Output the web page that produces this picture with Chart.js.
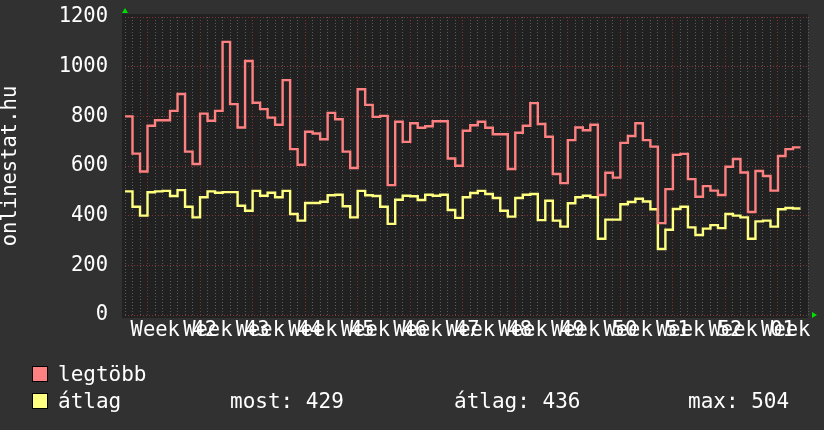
<!DOCTYPE html>
<html>
<head>
<meta charset="utf-8">
<script src="https://cdn.jsdelivr.net/npm/chart.js@4"></script>
<style>
  html, body { margin: 0; padding: 0; background: #313131; }
  #wrap { position: relative; width: 824px; height: 430px; overflow: hidden; }
  #wrap canvas { position: absolute; left: 0; top: 0; }
  .lg { position: absolute; font: 21px/21px 'DejaVu Sans Mono', monospace; color: #fff; white-space: pre; }
  .sw { position: absolute; width: 16px; height: 16px; box-sizing: border-box; border: 1px solid #000; }
</style>
</head>
<body>
<div id="wrap">
  <canvas id="myChart1" width="824" height="430"></canvas>
</div>
<script>
// week numbers shown under the x axis (one label per week)
var weekLabels = ['42', '43', '44', '45', '46', '47', '48', '49', '50', '51', '52', '01', '02'];

// daily values, 90 days
var legtobb = [
  800, 650, 578, 762, 784, 784, 822, 890, 658, 608,
  811, 782, 822, 1100, 849, 755, 1023, 855, 829, 795,
  766, 946, 668, 605, 738, 731, 708, 814, 788, 658,
  592, 909, 846, 798, 802, 523, 778, 697, 772, 754,
  760, 780, 780, 630, 601, 742, 764, 778, 754, 728,
  728, 588, 734, 762, 853, 769, 718, 568, 531, 704,
  755, 744, 766, 483, 573, 553, 693, 721, 772, 704,
  678, 370, 507, 645, 649, 547, 476, 519, 501, 483,
  597, 628, 574, 415, 580, 560, 501, 640, 668, 675
];
var atlag = [
  498, 436, 400, 494, 498, 500, 479, 503, 436, 393,
  474, 498, 492, 495, 495, 440, 420, 500, 480, 492,
  474, 500, 407, 380, 451, 451, 456, 482, 484, 438,
  393, 500, 482, 479, 436, 367, 464, 480, 478, 463,
  484, 480, 484, 423, 391, 474, 491, 500, 487, 471,
  420, 396, 471, 484, 487, 382, 460, 380, 356, 450,
  474, 480, 474, 307, 384, 384, 446, 455, 468, 457,
  426, 266, 343, 427, 436, 353, 322, 348, 362, 350,
  407, 400, 393, 307, 377, 380, 356, 426, 431, 429
];

var statMost = 429;
var statAtlag = 436;
var statMax = 504;

var FONT = "'DejaVu Sans Mono', monospace";
var RED = 'rgb(255, 128, 128)';
var YELLOW = 'rgb(255, 255, 128)';
var GRID_MINOR = 'rgb(92, 92, 92)';
var GRID_MAJOR = 'rgb(128, 52, 52)';

// each value holds for one day, so add a closing point at the end
function steps(arr) {
  var pts = arr.map(function (v, i) { return { x: i, y: v }; });
  pts.push({ x: arr.length, y: arr[arr.length - 1] });
  return pts;
}

var bgPlugin = {
  id: 'bg',
  beforeDraw: function (chart) {
    var ctx = chart.ctx, a = chart.chartArea;
    ctx.save();
    ctx.fillStyle = '#313131';
    ctx.fillRect(0, 0, chart.width, chart.height);
    ctx.fillStyle = '#212121';
    ctx.fillRect(a.left - 3, a.top - 3, a.right - a.left + 3, a.bottom - a.top + 6);
    ctx.restore();
  },
  afterDraw: function (chart) {
    var ctx = chart.ctx, a = chart.chartArea;
    ctx.save();
    ctx.fillStyle = '#00e000';
    ctx.beginPath();
    ctx.moveTo(a.left - 3, a.top - 4);
    ctx.lineTo(a.left + 3, a.top - 4);
    ctx.lineTo(a.left, a.top - 9);
    ctx.closePath();
    ctx.fill();
    ctx.beginPath();
    ctx.moveTo(a.right + 4, a.bottom - 3);
    ctx.lineTo(a.right + 4, a.bottom + 3);
    ctx.lineTo(a.right + 9, a.bottom);
    ctx.closePath();
    ctx.fill();
    ctx.restore();
  }
};

var ctx = document.getElementById('myChart1').getContext('2d');

var myChart = new Chart(ctx, {
  type: 'line',
  data: {
    datasets: [{
      label: 'legtöbb',
      data: steps(legtobb),
      borderColor: RED,
      borderWidth: 2.4,
      pointRadius: 0,
      stepped: true,
      fill: false
    }, {
      label: 'átlag',
      data: steps(atlag),
      borderColor: YELLOW,
      borderWidth: 2.4,
      pointRadius: 0,
      stepped: true,
      fill: false
    }]
  },
  options: {
    responsive: false,
    animation: false,
    layout: { padding: { left: 0, top: 17, right: 16, bottom: 80 } },
    plugins: {
      legend: { display: false },
      tooltip: { enabled: false }
    },
    scales: {
      x: {
        type: 'linear',
        min: 0,
        max: 91,
        afterBuildTicks: function (scale) {
          var t = [];
          for (var i = 0; i <= 91; i++) t.push({ value: i });
          weekLabels.forEach(function (w, k) { t.push({ value: 6.5 + 7 * k }); });
          t.sort(function (p, q) { return p.value - q.value; });
          scale.ticks = t;
        },
        afterFit: function (scale) {
          scale.height = 35;
          scale.paddingLeft = 0;
          scale.paddingRight = 0;
        },
        ticks: {
          autoSkip: false,
          maxRotation: 0,
          minRotation: 0,
          color: '#fff',
          padding: 3,
          font: { family: FONT, size: 20.5 },
          callback: function (v) {
            var k = (v - 6.5) / 7;
            return (Number.isInteger(k) && weekLabels[k]) ? 'Week ' + weekLabels[k] : '';
          }
        },
        grid: {
          drawTicks: false,
          color: function (c) {
            var v = c.tick ? c.tick.value : 0;
            if (!Number.isInteger(v)) return 'rgba(0,0,0,0)';
            return (v - 3) % 7 === 0 ? GRID_MAJOR : GRID_MINOR;
          }
        },
        border: { display: false, dash: [1, 2] }
      },
      y: {
        min: 0,
        max: 1200,
        afterBuildTicks: function (scale) {
          var t = [];
          for (var v = 0; v <= 1200; v += 100) t.push({ value: v });
          scale.ticks = t;
        },
        afterFit: function (scale) {
          scale.width = 125;
          scale.paddingTop = 0;
          scale.paddingBottom = 0;
        },
        ticks: {
          color: '#fff',
          padding: 17,
          font: { family: FONT, size: 20.5 },
          callback: function (v) { return v % 200 === 0 ? v : ''; }
        },
        grid: {
          drawTicks: false,
          color: function (c) {
            var v = c.tick ? c.tick.value : 0;
            return v % 200 === 0 ? GRID_MAJOR : GRID_MINOR;
          }
        },
        border: { display: false, dash: [1, 2] },
        title: {
          display: true,
          text: 'onlinestat.hu',
          color: '#fff',
          font: { family: FONT, size: 20.5, lineHeight: 1 },
          padding: { top: 0, bottom: 21 }
        }
      }
    }
  },
  plugins: [bgPlugin]
});

// legend rows under the chart
var wrap = document.getElementById('wrap');
function addBox(left, top, color) {
  var d = document.createElement('div');
  d.className = 'sw';
  d.style.left = left + 'px';
  d.style.top = top + 'px';
  d.style.background = color;
  wrap.appendChild(d);
}
function addText(left, top, text) {
  var d = document.createElement('div');
  d.className = 'lg';
  d.style.left = left + 'px';
  d.style.top = top + 'px';
  d.textContent = text;
  wrap.appendChild(d);
}
addBox(32, 366, RED);
addText(58, 364, 'legtöbb');
addBox(32, 393, YELLOW);
addText(58, 391, 'átlag');
addText(230, 391, 'most: ' + statMost);
addText(454, 391, 'átlag: ' + statAtlag);
addText(688, 391, 'max: ' + statMax);
</script>
</body>
</html>
